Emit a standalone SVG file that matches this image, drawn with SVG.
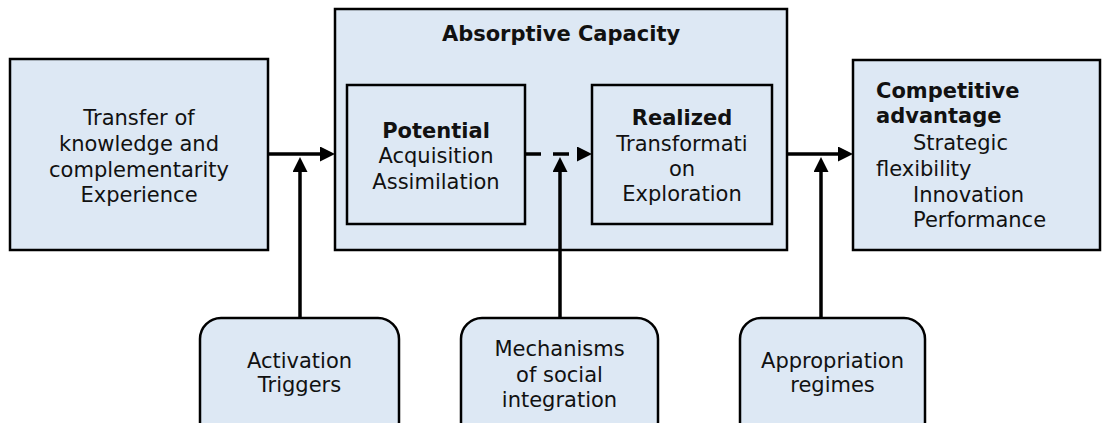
<svg xmlns="http://www.w3.org/2000/svg" width="1102" height="423" viewBox="0 0 1102 423">
  <style>
    .box { fill: #dde8f4; stroke: #000; stroke-width: 2.5; }
    .t { font-family: "DejaVu Sans", Verdana, sans-serif; font-size: 21px; fill: #111; }
    .c { text-anchor: middle; }
    .b { font-weight: bold; }
    .wire { fill: none; stroke: #000; stroke-width: 3.5; }
  </style>
  <defs>
    <marker id="head" markerUnits="userSpaceOnUse" markerWidth="16" markerHeight="16" viewBox="0 0 16 16" refX="0" refY="7.5" orient="auto">
      <path d="M0,0 L15,7.5 L0,15 z" fill="#000"/>
    </marker>
  </defs>

  <rect width="1102" height="423" fill="#fff"/>

  <g id="transfer">
    <rect class="box" x="10" y="59" width="258" height="191"/>
    <text class="t c" x="139" y="125">Transfer of</text>
    <text class="t c" x="139" y="151">knowledge and</text>
    <text class="t c" x="139" y="177">complementarity</text>
    <text class="t c" x="139" y="202">Experience</text>
  </g>

  <g id="absorptive-capacity">
    <rect class="box" x="335" y="9" width="452" height="241"/>
    <text class="t c b" x="561" y="41">Absorptive Capacity</text>
  </g>

  <g id="potential">
    <rect class="box" x="347" y="85" width="178" height="139"/>
    <text class="t c b" x="436" y="138">Potential</text>
    <text class="t c" x="436" y="163">Acquisition</text>
    <text class="t c" x="436" y="189">Assimilation</text>
  </g>

  <g id="realized">
    <rect class="box" x="592" y="85" width="180" height="139"/>
    <text class="t c b" x="682" y="125">Realized</text>
    <text class="t c" x="682" y="151">Transformati</text>
    <text class="t c" x="682" y="176">on</text>
    <text class="t c" x="682" y="201">Exploration</text>
  </g>

  <g id="competitive-advantage">
    <rect class="box" x="853" y="60" width="247" height="190"/>
    <text class="t b" x="876" y="98">Competitive</text>
    <text class="t b" x="876" y="123">advantage</text>
    <text class="t" x="913" y="150">Strategic</text>
    <text class="t" x="876" y="176">flexibility</text>
    <text class="t" x="913" y="202">Innovation</text>
    <text class="t" x="913" y="227">Performance</text>
  </g>

  <g id="activation-triggers">
    <rect class="box" x="200" y="318" width="199" height="125" rx="21"/>
    <text class="t c" x="299.5" y="368">Activation</text>
    <text class="t c" x="299.5" y="392">Triggers</text>
  </g>

  <g id="social-integration">
    <rect class="box" x="461" y="318" width="197" height="125" rx="21"/>
    <text class="t c" x="559.5" y="356">Mechanisms</text>
    <text class="t c" x="559.5" y="382">of social</text>
    <text class="t c" x="559.5" y="407">integration</text>
  </g>

  <g id="appropriation-regimes">
    <rect class="box" x="740" y="318" width="185" height="125" rx="21"/>
    <text class="t c" x="832.5" y="368">Appropriation</text>
    <text class="t c" x="832.5" y="392">regimes</text>
  </g>

  <g id="connectors">
    <!-- main flow -->
    <path class="wire" d="M268,154 H320" marker-end="url(#head)"/>
    <path class="wire" d="M525,154 H577" stroke-dasharray="16 12" marker-end="url(#head)"/>
    <path class="wire" d="M787,154 H838" marker-end="url(#head)"/>
    <!-- moderators pointing up into the flow -->
    <path class="wire" d="M300,318 V172" marker-end="url(#head)"/>
    <path class="wire" d="M560,318 V172" marker-end="url(#head)"/>
    <path class="wire" d="M821,318 V172" marker-end="url(#head)"/>
  </g>
</svg>
